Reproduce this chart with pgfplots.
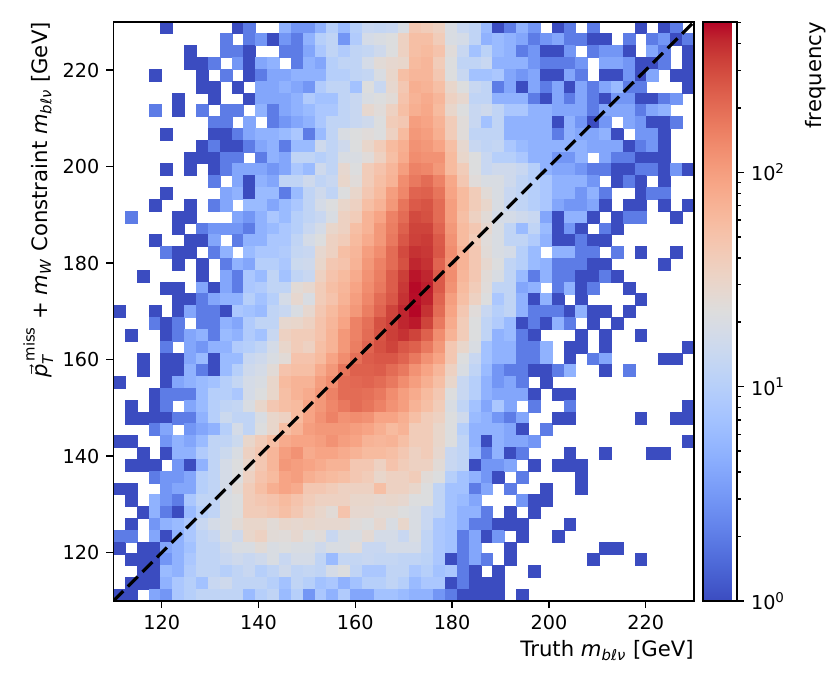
\documentclass[border=0pt]{standalone}
\usepackage{fontspec}
\setmainfont{DejaVu Sans}
\usepackage{amsmath}
\usepackage{pgfplots}
\usepackage{pgfplotstable}
\pgfplotsset{compat=1.18}
\pgfplotsset{colormap={coolwarm}{rgb255=(59,76,192) rgb255=(68,90,204) rgb255=(77,104,215) rgb255=(87,117,225) rgb255=(98,130,234) rgb255=(108,142,241) rgb255=(119,154,247) rgb255=(130,165,251) rgb255=(141,176,254) rgb255=(152,185,255) rgb255=(163,194,255) rgb255=(174,201,253) rgb255=(184,208,249) rgb255=(194,213,244) rgb255=(204,217,238) rgb255=(213,219,230) rgb255=(221,221,221) rgb255=(229,216,209) rgb255=(236,211,197) rgb255=(241,204,185) rgb255=(245,196,173) rgb255=(247,187,160) rgb255=(247,177,148) rgb255=(247,166,135) rgb255=(244,154,123) rgb255=(241,141,111) rgb255=(236,127,99) rgb255=(229,112,88) rgb255=(222,96,77) rgb255=(213,80,66) rgb255=(203,62,56) rgb255=(192,40,47) rgb255=(180,4,38)}}

% 2D histogram counts: row j (y bin, 0 = bottom), columns c0..c48 (x bins)
\pgfplotstableread{
j c0 c1 c2 c3 c4 c5 c6 c7 c8 c9 c10 c11 c12 c13 c14 c15 c16 c17 c18 c19 c20 c21 c22 c23 c24 c25 c26 c27 c28 c29 c30 c31 c32 c33 c34 c35 c36 c37 c38 c39 c40 c41 c42 c43 c44 c45 c46 c47 c48
48 0 0 0 0 1 0 0 0 0 0 1 2 0 0 5 3 3 5 10 6 10 14 13 14 20 45 40 35 20 14 12 6 1 2 5 3 0 1 2 0 2 0 0 0 1 0 1 2 0
47 0 0 0 0 0 0 0 0 0 2 0 2 3 1 3 2 5 10 12 3 9 18 20 22 35 55 55 40 20 18 12 5 6 5 4 2 3 4 2 2 1 1 0 2 0 2 3 1 2
46 0 0 0 0 0 0 1 0 0 2 2 1 0 0 2 2 4 8 12 9 12 13 16 22 35 55 60 50 24 14 7 11 6 5 2 3 1 1 3 0 2 3 3 1 0 4 2 0 1
45 0 0 0 0 0 0 1 1 2 0 3 1 4 5 0 2 5 4 10 12 12 18 25 28 30 60 65 40 22 12 12 14 5 5 5 3 2 2 2 3 0 4 4 3 1 1 2 0 1
44 0 0 0 1 0 0 0 1 0 2 0 1 2 4 4 5 5 5 10 10 12 13 20 30 55 65 65 45 22 14 7 7 8 4 3 4 1 1 4 2 0 1 1 3 1 4 0 1 1
43 0 0 0 0 0 0 0 1 1 0 1 0 4 4 5 4 3 9 12 12 7 22 14 28 45 75 70 55 30 22 14 12 2 4 1 4 2 4 1 4 2 4 6 2 2 0 0 0 1
42 0 0 0 0 0 1 0 0 1 0 0 1 4 4 4 5 9 7 7 12 14 20 22 25 50 70 80 65 35 28 12 12 5 5 5 2 1 4 2 4 2 1 3 3 1 1 2 3 0
41 0 0 0 2 0 1 0 2 0 2 2 0 5 2 4 5 6 8 8 12 14 28 24 35 55 75 85 60 30 22 14 16 12 8 8 5 5 4 4 4 2 4 4 4 2 4 5 0 0
40 0 0 0 0 0 0 0 0 2 2 0 4 0 2 3 4 5 8 12 12 14 16 22 40 45 100 90 70 40 24 14 7 12 5 5 5 5 1 5 3 1 3 0 4 3 1 1 2 0
39 0 0 0 0 1 0 0 0 1 1 2 4 5 5 6 8 2 6 12 20 22 24 22 35 60 110 100 75 40 24 12 12 12 5 5 5 5 2 5 4 4 5 1 0 3 3 1 0 0
38 0 0 0 0 0 0 0 1 2 1 1 2 4 5 2 6 6 16 12 16 22 30 40 60 75 120 110 90 55 28 14 12 13 8 6 5 5 5 5 5 4 4 4 1 2 3 1 0 0
37 0 0 0 0 0 0 1 1 1 2 2 0 2 5 4 12 12 10 12 20 20 24 35 55 80 130 120 120 60 30 22 14 10 10 8 5 5 3 3 5 0 4 2 2 1 1 1 0 0
36 0 0 0 0 1 0 1 0 1 2 4 4 4 3 4 8 6 16 12 28 22 40 50 65 100 150 140 110 60 40 22 14 16 16 14 10 5 4 4 3 2 2 1 1 2 2 1 3 1
35 0 0 0 0 0 0 0 0 2 0 4 1 5 4 12 12 16 12 14 30 24 40 55 70 130 170 200 150 85 45 24 20 20 16 12 10 8 5 5 5 3 0 1 2 1 0 1 0 0
34 0 0 0 0 1 0 0 0 0 4 5 1 6 6 2 6 12 16 12 22 30 45 60 100 140 220 230 180 90 60 40 25 20 14 12 10 8 5 5 3 5 2 0 0 1 2 2 0 0
33 0 0 0 1 0 0 1 0 2 4 0 6 6 4 6 8 12 18 22 30 35 55 70 110 180 250 270 200 100 60 40 30 20 14 12 10 8 4 3 3 4 1 0 1 1 0 1 0 1
32 0 2 0 0 0 1 1 0 0 0 4 3 5 8 6 10 12 14 20 35 40 70 90 150 200 300 280 200 100 55 35 25 18 18 16 14 4 1 5 5 1 0 1 2 2 0 0 1 0
31 0 0 0 0 0 1 0 2 3 3 3 2 5 6 8 10 14 18 30 35 55 70 110 160 230 320 320 220 110 60 45 28 20 12 6 12 6 1 3 1 0 2 1 0 0 0 0 0 0
30 0 0 0 1 0 0 1 1 4 0 2 5 5 8 8 12 18 22 35 40 60 80 110 170 260 330 350 250 120 60 40 24 20 12 12 9 5 1 1 2 1 1 0 0 0 0 0 0 0
29 0 0 0 0 2 1 1 0 2 5 0 6 8 8 9 13 14 28 35 55 65 100 130 200 300 380 360 260 130 70 45 25 20 18 10 6 0 5 5 2 2 0 2 0 1 0 0 1 0
28 0 0 0 0 0 1 0 1 0 2 5 4 10 10 8 15 16 30 45 50 70 110 150 200 280 420 380 220 120 70 45 28 22 12 10 6 5 2 2 2 1 1 0 0 0 0 1 0 0
27 0 0 1 0 0 0 0 1 0 4 2 8 6 12 7 12 14 35 50 60 80 120 160 240 340 460 420 250 130 65 45 25 20 12 6 2 5 2 2 1 1 2 1 0 0 0 0 0 0
26 0 0 0 0 1 1 0 4 1 4 2 8 9 12 12 25 28 40 55 65 90 130 170 240 360 490 440 250 120 60 40 24 12 12 4 5 0 2 5 1 2 0 0 1 0 0 0 0 0
25 0 0 0 0 0 1 1 2 4 5 5 10 7 10 18 28 20 40 50 70 100 140 200 260 380 480 430 220 100 55 35 22 8 12 5 1 5 1 0 1 0 0 0 0 1 0 0 0 0
24 1 0 0 1 0 1 4 2 2 1 8 7 6 12 14 20 28 45 60 80 110 160 220 320 420 500 380 200 90 45 24 14 10 12 5 2 2 2 1 5 1 1 0 1 0 0 0 0 0
23 0 0 0 2 1 2 0 2 2 5 4 9 12 12 28 30 35 50 65 90 150 190 280 330 420 450 320 170 80 40 22 12 9 6 1 2 1 5 2 0 1 0 1 0 0 0 0 0 0
22 0 1 0 0 1 2 4 5 2 6 5 9 7 14 35 40 40 50 70 110 150 200 270 340 380 320 230 130 70 40 22 12 5 6 2 1 0 0 0 1 0 1 0 0 1 0 0 0 0
21 0 0 0 0 2 0 4 3 5 5 9 10 12 18 30 40 35 55 70 110 160 220 280 320 260 230 170 110 45 30 20 7 5 5 2 2 5 0 1 1 0 1 0 0 0 0 0 0 1
20 0 0 1 0 1 1 4 6 1 6 6 14 16 20 25 50 50 60 90 130 190 240 260 260 220 170 120 90 45 22 14 7 5 5 2 2 5 0 1 0 2 4 0 0 0 0 1 1 0
19 0 0 1 0 1 1 5 2 1 6 10 16 18 25 50 55 55 80 110 180 230 230 240 200 170 120 90 65 35 20 12 6 3 2 2 1 1 2 5 0 0 1 0 2 0 0 0 0 0
18 1 0 0 0 1 4 5 6 7 10 13 18 20 30 60 70 70 100 130 200 210 220 200 170 130 100 75 55 30 14 10 5 3 4 2 0 1 0 0 0 0 0 0 0 0 0 0 0 0
17 0 0 0 1 2 2 2 6 10 10 8 18 22 30 55 70 80 110 150 200 200 190 170 130 100 80 60 45 22 14 10 5 4 4 4 1 0 1 1 0 0 0 0 0 0 0 0 0 0
16 0 1 0 1 2 0 4 6 10 12 13 20 30 45 55 60 90 110 140 170 200 180 150 120 100 70 55 40 20 12 7 4 8 4 0 2 0 0 2 0 0 0 0 0 0 0 0 0 1
15 0 1 1 1 1 2 2 5 10 15 12 12 20 30 35 60 90 120 150 120 130 120 90 90 75 55 40 35 22 16 6 5 3 2 4 0 0 1 1 0 0 0 0 0 1 0 0 1 1
14 0 0 0 2 4 0 3 4 5 10 18 12 22 30 55 70 100 110 110 110 100 90 75 60 70 40 40 30 22 10 5 5 5 4 1 0 2 0 0 0 0 0 0 0 0 0 0 0 0
13 1 1 0 0 3 5 4 6 12 12 15 30 40 55 80 90 90 100 120 100 90 70 65 70 55 40 40 30 22 12 5 1 5 4 4 3 0 0 0 0 0 0 0 0 0 0 0 0 1
12 0 0 1 0 1 5 5 9 12 15 20 35 45 65 100 120 80 90 90 80 70 60 60 55 45 35 40 28 14 12 6 2 5 1 2 0 0 0 1 0 0 1 0 0 0 1 1 0 0
11 0 1 1 1 0 3 1 5 12 18 22 30 45 65 110 100 90 80 70 70 45 45 35 50 40 35 35 25 14 12 1 3 3 4 0 1 0 1 1 1 0 0 0 0 0 0 0 0 0
10 0 0 0 2 3 3 4 10 12 18 22 35 50 60 90 100 75 65 60 55 45 40 30 35 35 40 25 22 10 7 5 3 1 0 2 0 0 0 0 1 0 0 0 0 0 0 0 0 0
9 1 1 0 0 3 4 4 10 12 18 25 40 55 75 90 80 45 45 40 35 35 35 55 35 35 30 22 12 7 7 2 4 0 2 0 0 1 0 0 1 0 0 0 0 0 0 0 0 0
8 0 1 0 5 3 2 8 12 12 20 22 40 45 50 60 50 40 35 35 35 30 30 28 30 28 22 22 12 7 6 4 0 0 0 3 1 1 0 0 0 0 0 0 0 0 0 0 0 0
7 0 0 1 5 2 1 6 10 12 20 22 40 40 45 55 45 35 30 25 50 28 28 25 25 22 20 14 12 7 5 5 2 0 1 0 1 0 0 0 0 0 0 0 0 0 0 0 0 0
6 0 1 0 3 5 6 8 14 18 20 25 30 30 25 30 28 30 28 28 28 24 22 28 20 30 20 14 8 7 5 2 2 1 1 1 0 0 0 1 0 0 0 0 0 0 0 0 0 0
5 2 2 0 4 1 5 8 12 14 20 16 30 35 25 24 28 22 24 14 20 20 26 18 18 14 20 12 8 7 2 4 1 3 0 1 0 0 1 0 0 0 0 0 0 0 0 0 0 0
4 1 0 1 1 4 5 7 12 12 16 20 20 25 20 22 20 20 16 20 20 24 14 14 18 18 18 12 8 7 2 4 0 0 1 0 0 0 0 0 0 0 1 1 0 0 0 0 0 0
3 0 1 1 1 3 5 8 12 12 14 16 14 16 20 14 18 18 12 6 13 13 14 13 13 12 12 11 8 1 2 4 2 0 1 0 0 0 0 0 0 1 0 0 0 1 0 0 0 0
2 0 0 1 1 6 5 9 12 12 10 12 14 10 12 16 12 13 12 18 22 12 8 8 12 12 8 10 7 8 2 1 0 1 0 0 1 0 0 0 0 0 0 0 0 0 0 0 0 0
1 0 1 1 1 5 8 10 7 14 16 12 12 12 10 7 12 10 7 8 5 7 10 10 12 10 6 8 8 1 2 1 1 1 0 0 0 0 0 0 0 0 0 0 0 0 0 0 0 0
0 1 1 0 4 3 8 10 12 12 12 12 6 10 12 6 10 3 8 5 9 4 4 7 7 6 5 5 3 2 1 1 1 1 0 1 0 0 0 0 0 0 0 0 0 0 0 0 0 0
}\hist

\begin{document}
\begin{tikzpicture}
\useasboundingbox (-56.65pt,-45.5pt) rectangle (358.35pt,300.5pt);
\begin{axis}[
  at={(0,0)}, anchor=south west,
  scale only axis, width=290.4pt, height=289.6pt,
  xmin=110, xmax=230, ymin=110, ymax=230,
  enlargelimits=false,
  axis on top,
  clip marker paths=true,
  xtick={120,140,...,220}, ytick={120,140,...,220},
  xtick pos=bottom, ytick pos=left, tick align=outside,
  major tick length=3.5pt,
  every tick/.style={black, line width=0.75pt},
  axis line style={black, line width=0.75pt},
  /pgf/number format/assume math mode=true,
  tick label style={font=\fontsize{9.6}{11.5}\selectfont},
  label style={font=\fontsize{10.6}{12.7}\selectfont},
  xlabel={Truth \textit{m}\textsubscript{\textit{bℓν}} [GeV]},
  xlabel style={at={(axis description cs:1,-0.067)}, anchor=north east, inner sep=0pt},
  ylabel={$\vec{\textit{p}}_{\textit{T}}^{\,\text{miss}}$ + \textit{m}\textsubscript{\textit{W}} Constraint \textit{m}\textsubscript{\textit{bℓν}} [GeV]},
  ylabel style={at={(axis description cs:-0.103,1)}, anchor=south east, inner sep=0pt},
  colormap name=coolwarm,
  point meta min=0, point meta max=2.7033,
  colorbar,
  colorbar style={
    at={(parent axis.north east)}, anchor=north west, xshift=-4.09pt,
    scale only axis, width=17pt, height=289.6pt,
    ytick={0,1,2},
    yticklabels={10\textsuperscript{0},10\textsuperscript{1},10\textsuperscript{2}},
    minor ytick={0.30103,0.47712,0.60206,0.69897,0.77815,0.84510,0.90309,0.95424,1.30103,1.47712,1.60206,1.69897,1.77815,1.84510,1.90309,1.95424,2.30103,2.47712,2.60206,2.69897},
    ytick pos=right, yticklabel pos=right, tick align=outside,
    major tick length=3.5pt, minor tick length=2pt,
    every tick/.style={black, line width=0.75pt},
    axis line style={black, line width=0.75pt},
    yticklabel style={font=\fontsize{9.6}{11.5}\selectfont},
    ylabel={frequency},
    ylabel style={at={(axis description cs:3.32,1)}, anchor=east, inner sep=0pt, font=\fontsize{10.6}{12.7}\selectfont},
  },
]
\pgfplotsinvokeforeach{0,...,48}{
  \addplot[scatter, only marks, mark=square*, mark size=2.97pt,
    scatter/use mapped color={draw=mapped color, fill=mapped color},
    mark options={line width=0.2pt},
    point meta={log10(max(\thisrow{c#1},1))},
    restrict expr to domain={\thisrow{c#1}}{0.5:100000}]
    table[x expr={110+(#1+0.5)*120/49}, y expr={110+(\thisrow{j}+0.5)*120/49}] {\hist};
}
\addplot[black, line width=1.6pt, dash pattern=on 7pt off 3.3pt] coordinates {(110,110) (230,230)};
\end{axis}
\end{tikzpicture}
\end{document}
